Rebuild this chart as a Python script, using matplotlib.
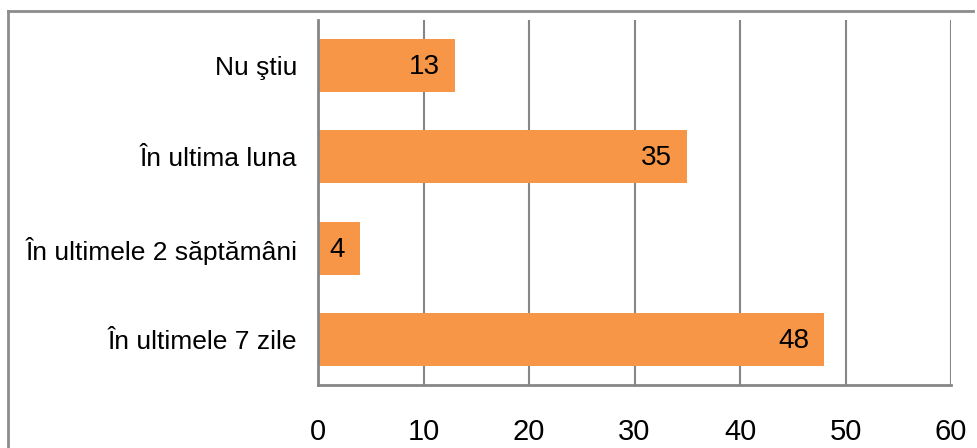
import matplotlib.pyplot as plt
from matplotlib.lines import Line2D

# Survey answers, top to bottom as in the chart
categories = ["Nu ştiu", "În ultima luna", "În ultimele 2 săptămâni", "În ultimele 7 zile"]
counts = [13, 35, 4, 48]
x_ticks = [0, 10, 20, 30, 40, 50, 60]

plt.rcParams["font.family"] = ["Liberation Sans", "DejaVu Sans"]

fig = plt.figure(figsize=(9.78, 4.48), dpi=100)
ax = fig.add_axes([0.3252, 0.1406, 0.6472, 0.8147])

positions = list(range(len(categories)))
ax.barh(positions, counts, height=0.58, color="#F79646", zorder=3)
ax.set_ylim(len(categories) - 0.5, -0.5)
ax.set_xlim(0, 60)

# Value labels inside the bar ends
for pos, val in zip(positions, counts):
    ax.annotate(str(val), xy=(val, pos), xytext=(-11, -1), textcoords="offset points",
                ha="right", va="center", fontsize=20, zorder=4)

ax.set_yticks(positions)
ax.set_yticklabels(categories, fontsize=19)
ax.set_xticks(x_ticks)
ax.set_xticklabels([str(t) for t in x_ticks], fontsize=21)
ax.tick_params(axis="both", length=0)
ax.tick_params(axis="x", pad=24)
ax.tick_params(axis="y", pad=15)

ax.grid(axis="x", color="#868686", linewidth=1.5, zorder=0)
for side in ["top", "right"]:
    ax.spines[side].set_visible(False)
for side in ["left", "bottom"]:
    ax.spines[side].set_color("#868686")
    ax.spines[side].set_linewidth(2)
    ax.spines[side].set_zorder(5)

# Outer chart border (only top and left edges are visible)
fig.add_artist(Line2D([8 / 978, 973 / 978], [1 - 11 / 448, 1 - 11 / 448],
                      transform=fig.transFigure, color="#8C8C8C", linewidth=2))
fig.add_artist(Line2D([8 / 978, 8 / 978], [1 - 11 / 448, 0],
                      transform=fig.transFigure, color="#8C8C8C", linewidth=2))

fig.savefig("out.png", dpi=100)
